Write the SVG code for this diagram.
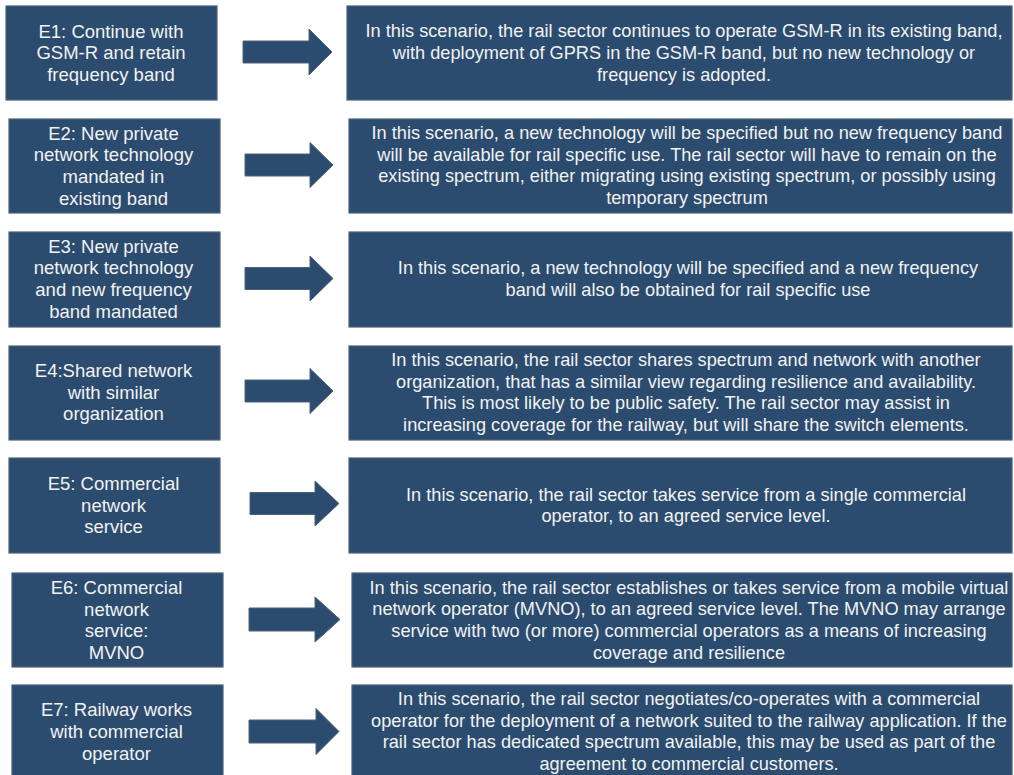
<svg xmlns="http://www.w3.org/2000/svg" width="1014" height="775" viewBox="0 0 1014 775">
<style>
.box{fill:#2b4c6f;stroke:#4a6279;stroke-width:1.2}
.arr{fill:#2b4c6f;stroke:#4a6279;stroke-width:1}
.lt{font-family:"Liberation Sans",Arial,sans-serif;font-size:18.5px;fill:#f2f2f2;text-anchor:middle}
.rt{font-family:"Liberation Sans",Arial,sans-serif;font-size:18.2px;fill:#f2f2f2;text-anchor:middle}
</style>
<rect width="1014" height="775" fill="#ffffff"/>

<g id="connectors">
<path class="arr" d="M243,41 H309 V29 L332,52 L309,75 V63 H243 Z"/>
<path class="arr" d="M245,154 H310 V142.5 L333,165 L310,187.5 V176 H245 Z"/>
<path class="arr" d="M245,267.5 H310 V256 L333,278.5 L310,301 V289.5 H245 Z"/>
<path class="arr" d="M245,380 H310 V368.5 L333,391 L310,413.5 V402 H245 Z"/>
<path class="arr" d="M250,492.5 H315 V481 L339,503.5 L315,526 V514.5 H250 Z"/>
<path class="arr" d="M249,608 H315 V597 L340,619.5 L315,642 V631 H249 Z"/>
<path class="arr" d="M249,720 H316 V708.5 L339,731.5 L316,754.5 V743 H249 Z"/>
</g>

<g id="e1-scenario">
<rect class="box" x="6" y="6" width="211" height="94"/>
<text class="lt" x="111" y="37.5">E1: Continue with</text>
<text class="lt" x="111" y="59.2">GSM-R  and retain</text>
<text class="lt" x="111" y="80.9">frequency band</text>
</g>
<g id="e1-description">
<rect class="box" x="347" y="6" width="665" height="94"/>
<text class="rt" x="684" y="37.3">In this scenario, the rail sector continues to operate GSM-R in its existing band,</text>
<text class="rt" x="684" y="59">with deployment of GPRS in the GSM-R  band, but no new technology or</text>
<text class="rt" x="684" y="80.7">frequency is adopted.</text>
</g>

<g id="e2-scenario">
<rect class="box" x="9" y="119" width="211" height="94"/>
<text class="lt" x="113.5" y="139.5">E2: New private</text>
<text class="lt" x="113.5" y="161.2">network technology</text>
<text class="lt" x="113.5" y="182.9">mandated in</text>
<text class="lt" x="113.5" y="204.6">existing band</text>
</g>
<g id="e2-description">
<rect class="box" x="349" y="119" width="663" height="94"/>
<text class="rt" x="687" y="139">In this scenario, a new technology will be specified but no new frequency band</text>
<text class="rt" x="687" y="160.7">will be available for rail specific use. The rail sector will have to  remain on the</text>
<text class="rt" x="687" y="182.4">existing spectrum, either migrating using existing spectrum, or possibly using</text>
<text class="rt" x="687" y="204.1">temporary spectrum</text>
</g>

<g id="e3-scenario">
<rect class="box" x="9" y="232" width="211" height="95"/>
<text class="lt" x="113.5" y="252.7">E3: New private</text>
<text class="lt" x="113.5" y="274.4">network technology</text>
<text class="lt" x="113.5" y="296.1">and new frequency</text>
<text class="lt" x="113.5" y="317.8">band mandated</text>
</g>
<g id="e3-description">
<rect class="box" x="349" y="232" width="663" height="95"/>
<text class="rt" x="688" y="274.3">In this scenario, a new technology will be specified and a new frequency</text>
<text class="rt" x="688" y="296">band will also be obtained for rail specific use</text>
</g>

<g id="e4-scenario">
<rect class="box" x="9" y="346" width="211" height="94"/>
<text class="lt" x="113.5" y="377">E4:Shared network</text>
<text class="lt" x="113.5" y="398.7">with similar</text>
<text class="lt" x="113.5" y="420.4">organization</text>
</g>
<g id="e4-description">
<rect class="box" x="349" y="346" width="663" height="94"/>
<text class="rt" x="686" y="366">In this scenario, the rail sector shares spectrum and network with another</text>
<text class="rt" x="686" y="387.7">organization, that has a similar view regarding resilience and availability.</text>
<text class="rt" x="686" y="409.4">This is most likely to be public safety.  The rail sector may assist in</text>
<text class="rt" x="686" y="431.1">increasing coverage for the railway,  but will share the switch elements.</text>
</g>

<g id="e5-scenario">
<rect class="box" x="9" y="458" width="211" height="95"/>
<text class="lt" x="113.5" y="490">E5: Commercial</text>
<text class="lt" x="113.5" y="511.7">network</text>
<text class="lt" x="113.5" y="533.4">service</text>
</g>
<g id="e5-description">
<rect class="box" x="349" y="458" width="663" height="95"/>
<text class="rt" x="686" y="500.5">In this scenario, the rail sector takes service from a single commercial</text>
<text class="rt" x="686" y="522.2">operator, to an agreed service level.</text>
</g>

<g id="e6-scenario">
<rect class="box" x="12" y="573" width="211" height="94"/>
<text class="lt" x="116.5" y="594">E6: Commercial</text>
<text class="lt" x="116.5" y="615.7">network</text>
<text class="lt" x="116.5" y="637.4">service:</text>
<text class="lt" x="116.5" y="659.1">MVNO</text>
</g>
<g id="e6-description">
<rect class="box" x="352" y="573" width="660" height="94"/>
<text class="rt" x="689" y="593.5">In this scenario, the rail sector establishes or takes service from a mobile virtual</text>
<text class="rt" x="689" y="615.2">network operator (MVNO),  to an agreed service level. The MVNO  may arrange</text>
<text class="rt" x="689" y="636.9">service with two (or more) commercial operators as a means of increasing</text>
<text class="rt" x="689" y="658.6">coverage and resilience</text>
</g>

<g id="e7-scenario">
<rect class="box" x="12" y="685" width="211" height="94"/>
<text class="lt" x="116.5" y="716.3">E7: Railway works</text>
<text class="lt" x="116.5" y="738">with commercial</text>
<text class="lt" x="116.5" y="759.7">operator</text>
</g>
<g id="e7-description">
<rect class="box" x="352" y="685" width="660" height="94"/>
<text class="rt" x="689" y="705">In this scenario, the rail sector negotiates/co-operates with a commercial</text>
<text class="rt" x="689" y="726.7">operator for the deployment of a network suited to the railway application. If the</text>
<text class="rt" x="689" y="748.4">rail sector has dedicated spectrum available, this may be used as part of the</text>
<text class="rt" x="689" y="770.1">agreement to commercial customers.</text>
</g>
</svg>
